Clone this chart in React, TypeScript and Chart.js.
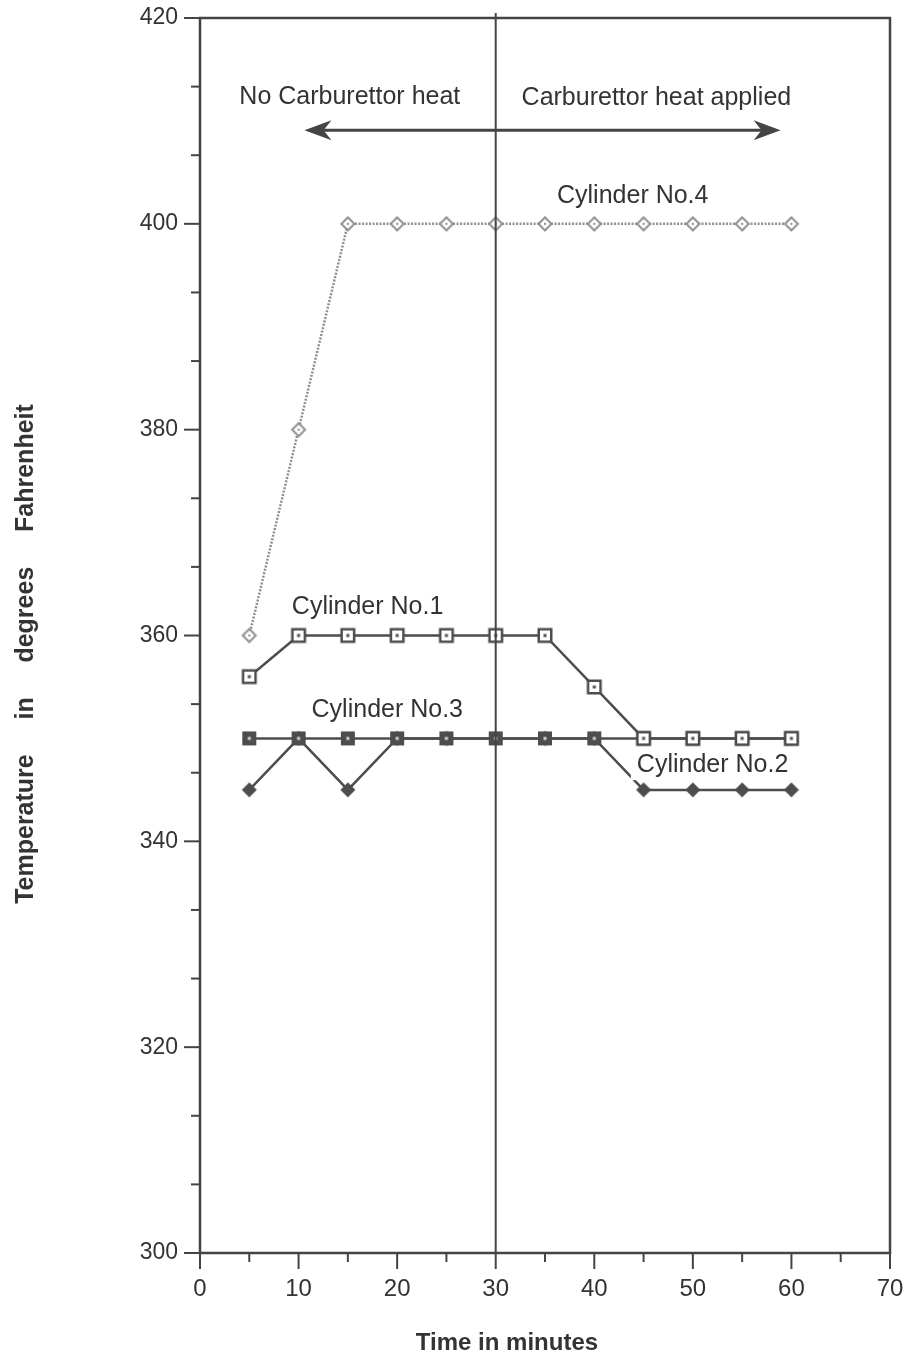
import React, { useEffect, useRef } from 'react';
import { Chart, registerables } from 'chart.js';

Chart.register(...registerables);

// ---- data ----
const minutes = [5, 10, 15, 20, 25, 30, 35, 40, 45, 50, 55, 60];
const cylinder1 = [356, 360, 360, 360, 360, 360, 360, 355, 350, 350, 350, 350];
const cylinder2 = [345, 350, 345, 350, 350, 350, 350, 350, 345, 345, 345, 345];
const cylinder3 = [350, 350, 350, 350, 350, 350, 350, 350, 350, 350, 350, 350];
const cylinder4 = [360, 380, 400, 400, 400, 400, 400, 400, 400, 400, 400, 400];
const xTickValues = [0, 10, 20, 30, 40, 50, 60, 70];
const yTickValues = [300, 320, 340, 360, 380, 400, 420];
const seriesNames = ['Cylinder No.1', 'Cylinder No.2', 'Cylinder No.3', 'Cylinder No.4'];
const heatOnMinute = 30;
const xTitle = 'Time in minutes';
const yTitle = 'Temperature     in     degrees     Fahrenheit';

// text annotations placed in data coordinates
const notes = [
  { text: 'No Carburettor heat', x: 15.2, y: 412.3, box: false },
  { text: 'Carburettor heat applied', x: 46.3, y: 412.2, box: false },
  { text: seriesNames[3], x: 43.9, y: 402.7, box: false },
  { text: seriesNames[0], x: 17.0, y: 362.8, box: false },
  { text: seriesNames[2], x: 19.0, y: 352.75, box: false },
  { text: seriesNames[1], x: 52.0, y: 347.4, box: true },
];
const arrowY = 409.1;
const arrowLeftEnd = 10.6;
const arrowRightEnd = 58.9;

const DARK = '#444444';
const INK = '#333333';
const LINE = '#4d4d4d';
const LIGHT = '#8f8f8f';
const FONT = '"Liberation Sans", Arial, Helvetica, sans-serif';

function makeMarker(kind: string): HTMLCanvasElement {
  const s = 18;
  const c = document.createElement('canvas');
  c.width = s;
  c.height = s;
  const g = c.getContext('2d')!;
  if (kind === 'openSquare') {
    g.fillStyle = '#ffffff';
    g.fillRect(2, 2, 14, 14);
    g.strokeStyle = LINE;
    g.lineWidth = 2.5;
    g.strokeRect(2.75, 2.75, 12.5, 12.5);
    g.fillStyle = LINE;
    g.fillRect(7.5, 7.5, 3, 3);
  } else if (kind === 'filledSquare') {
    g.fillStyle = LINE;
    g.fillRect(2, 2, 14, 14);
    g.fillStyle = '#d8d8d8';
    g.fillRect(7.5, 7.5, 3, 3);
  } else if (kind === 'filledDiamond') {
    g.fillStyle = LINE;
    g.beginPath();
    g.moveTo(9, 1.5);
    g.lineTo(16.5, 9);
    g.lineTo(9, 16.5);
    g.lineTo(1.5, 9);
    g.closePath();
    g.fill();
  } else {
    g.fillStyle = '#ffffff';
    g.strokeStyle = LIGHT;
    g.lineWidth = 2;
    g.beginPath();
    g.moveTo(9, 2.5);
    g.lineTo(15.5, 9);
    g.lineTo(9, 15.5);
    g.lineTo(2.5, 9);
    g.closePath();
    g.fill();
    g.stroke();
    g.fillStyle = LIGHT;
    g.fillRect(8, 8, 2, 2);
  }
  return c;
}

const decorPlugin = {
  id: 'decor',
  afterDatasetsDraw(chart: any) {
    const { ctx, chartArea, scales } = chart;
    const xs = scales.x;
    const ys = scales.y;
    ctx.save();
    // frame
    ctx.strokeStyle = DARK;
    ctx.lineWidth = 2.5;
    ctx.strokeRect(chartArea.left, chartArea.top, chartArea.right - chartArea.left, chartArea.bottom - chartArea.top);
    // ticks on y (three intervals between labelled values)
    ctx.lineWidth = 2;
    for (let i = 0; i <= 18; i++) {
      const v = 300 + (i * 20) / 3;
      const py = ys.getPixelForValue(v);
      const len = i % 3 === 0 ? 16 : 9;
      ctx.beginPath();
      ctx.moveTo(chartArea.left, py);
      ctx.lineTo(chartArea.left - len, py);
      ctx.stroke();
    }
    for (let i = 0; i <= 14; i++) {
      const v = i * 5;
      const px = xs.getPixelForValue(v);
      const len = i % 2 === 0 ? 16 : 9;
      ctx.beginPath();
      ctx.moveTo(px, chartArea.bottom);
      ctx.lineTo(px, chartArea.bottom + len);
      ctx.stroke();
    }
    // vertical divider at heat-on time
    const vx = xs.getPixelForValue(heatOnMinute);
    ctx.lineWidth = 2;
    ctx.beginPath();
    ctx.moveTo(vx, chartArea.top - 5);
    ctx.lineTo(vx, chartArea.bottom);
    ctx.stroke();
    // arrows
    const ay = ys.getPixelForValue(arrowY);
    const drawArrow = (fromX: number, toX: number) => {
      const dir = toX > fromX ? 1 : -1;
      ctx.strokeStyle = DARK;
      ctx.lineWidth = 3;
      ctx.beginPath();
      ctx.moveTo(fromX, ay);
      ctx.lineTo(toX - dir * 18, ay);
      ctx.stroke();
      ctx.fillStyle = DARK;
      ctx.beginPath();
      ctx.moveTo(toX, ay);
      ctx.lineTo(toX - dir * 27, ay - 10);
      ctx.lineTo(toX - dir * 19, ay);
      ctx.lineTo(toX - dir * 27, ay + 10);
      ctx.closePath();
      ctx.fill();
    };
    drawArrow(vx, xs.getPixelForValue(arrowLeftEnd));
    drawArrow(vx, xs.getPixelForValue(arrowRightEnd));
    // annotations
    ctx.font = `25px ${FONT}`;
    ctx.textAlign = 'center';
    ctx.textBaseline = 'middle';
    for (const n of notes) {
      const px = xs.getPixelForValue(n.x);
      const py = ys.getPixelForValue(n.y);
      if (n.box) {
        const w = ctx.measureText(n.text).width;
        ctx.fillStyle = '#ffffff';
        ctx.fillRect(px - w / 2 - 6, py - 15, w + 12, 30);
      }
      ctx.fillStyle = INK;
      ctx.fillText(n.text, px, py);
    }
    // axis titles
    ctx.font = `bold 24px ${FONT}`;
    ctx.fillStyle = INK;
    ctx.fillText(xTitle, 507, 1343);
    ctx.font = `bold 25px ${FONT}`;
    ctx.translate(26, 654);
    ctx.rotate(-Math.PI / 2);
    ctx.fillText(yTitle, 0, 0);
    ctx.restore();
  },
};

const noOverflow = (s: any) => {
  s.paddingTop = 0;
  s.paddingBottom = 0;
  s.paddingLeft = 0;
  s.paddingRight = 0;
};

export default function App() {
  const ref = useRef<HTMLCanvasElement | null>(null);
  useEffect(() => {
    const canvas = ref.current;
    if (!canvas) return;
    const mk = (vals: number[]) => minutes.map((m, i) => ({ x: m, y: vals[i] }));
    const chart = new Chart(canvas, {
      type: 'line',
      data: {
        datasets: [
          {
            label: seriesNames[0],
            data: mk(cylinder1),
            borderColor: LINE,
            borderWidth: 2.5,
            pointStyle: makeMarker('openSquare') as any,
            pointRadius: 8,
            order: 1,
          },
          {
            label: seriesNames[2],
            data: mk(cylinder3),
            borderColor: LINE,
            borderWidth: 2.5,
            pointStyle: makeMarker('filledSquare') as any,
            pointRadius: 8,
            order: 3,
          },
          {
            label: seriesNames[1],
            data: mk(cylinder2),
            borderColor: LINE,
            borderWidth: 2.5,
            pointStyle: makeMarker('filledDiamond') as any,
            pointRadius: 8,
            order: 4,
          },
          {
            label: seriesNames[3],
            data: mk(cylinder4),
            borderColor: LIGHT,
            borderWidth: 2.5,
            borderDash: [2, 1.5],
            pointStyle: makeMarker('hollowDiamond') as any,
            pointRadius: 8,
            order: 2,
          },
        ],
      },
      options: {
        animation: false,
        responsive: false,
        maintainAspectRatio: false,
        layout: { padding: { top: 18, right: 22, left: 0, bottom: 0 } },
        plugins: { legend: { display: false }, tooltip: { enabled: false }, title: { display: false } },
        elements: { line: { tension: 0 } },
        scales: {
          x: {
            type: 'linear',
            min: 0,
            max: 70,
            afterFit: (s: any) => { s.height = 105; noOverflow(s); },
            afterBuildTicks: (s: any) => { s.ticks = xTickValues.map((v) => ({ value: v })); },
            ticks: { color: INK, font: { family: FONT, size: 24 }, padding: 22, maxRotation: 0, autoSkip: false },
            grid: { display: false, drawTicks: false },
            border: { display: false },
          },
          y: {
            type: 'linear',
            min: 300,
            max: 420,
            afterFit: (s: any) => { s.width = 200; noOverflow(s); },
            afterBuildTicks: (s: any) => { s.ticks = yTickValues.map((v) => ({ value: v })); },
            ticks: { color: INK, font: { family: FONT, size: 23 }, padding: 22, autoSkip: false },
            grid: { display: false, drawTicks: false },
            border: { display: false },
          },
        },
      },
      plugins: [decorPlugin],
    });
    return () => chart.destroy();
  }, []);
  return (
    <div style={{ position: 'absolute', left: 0, top: 0, width: 912, height: 1358, background: '#ffffff' }}>
      <canvas ref={ref} width={912} height={1358} style={{ display: 'block', width: 912, height: 1358 }} />
    </div>
  );
}
